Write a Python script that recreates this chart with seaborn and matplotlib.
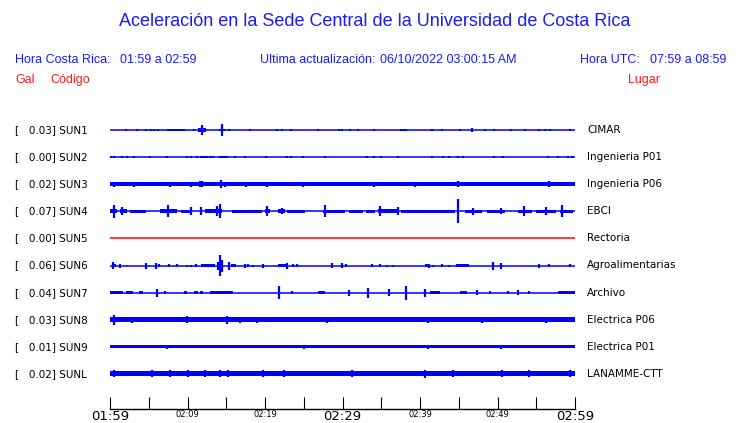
import matplotlib
matplotlib.use("Agg")
import matplotlib.pyplot as plt
import matplotlib.transforms as mtransforms
import numpy as np
import pandas as pd
import seaborn as sns

# Station data
codes = ['SUN1', 'SUN2', 'SUN3', 'SUN4', 'SUN5', 'SUN6', 'SUN7', 'SUN8', 'SUN9', 'SUNL']
places = ['CIMAR', 'Ingenieria P01', 'Ingenieria P06', 'EBCI', 'Rectoria',
          'Agroalimentarias', 'Archivo', 'Electrica P06', 'Electrica P01', 'LANAMME-CTT']
gal = [0.03, 0.00, 0.02, 0.07, 0.00, 0.06, 0.04, 0.03, 0.01, 0.02]
trace_colors = ['#0000ff'] * 4 + ['#ff0000'] + ['#0000ff'] * 5

# background noise half-width of each trace (pixel-ish amplitude units)
noise = [0, 0, 1.7, 0, 0, 0, 0, 2.4, 1.6, 2.4]

# longer stretches of activity: (start minute, end minute, half-width)
bands = {
    'SUN1': [(7.4, 9.7, 1.2), (11.3, 12.4, 1.7), (14.0, 14.9, 1.3), (37.6, 38.3, 1.3), (41.3, 41.8, 1.3)],
    'SUN2': [(11.6, 12.6, 1.2), (14.0, 15.2, 1.2)],
    'SUN4': [(0.0, 0.9, 2.0), (1.3, 2.2, 2.0), (2.6, 4.7, 1.7), (6.5, 8.6, 2.0), (9.2, 10.3, 1.7),
             (12.3, 14.4, 2.0), (15.7, 19.6, 1.7), (20.0, 20.6, 2.0), (21.7, 22.6, 2.0),
             (22.8, 25.2, 1.7), (27.5, 30.3, 1.7), (30.8, 32.6, 1.7), (33.0, 34.2, 1.7),
             (34.6, 37.2, 2.0), (37.6, 44.5, 1.7), (45.8, 48.0, 1.7), (48.6, 51.0, 1.5),
             (52.7, 54.5, 1.7), (55.0, 57.5, 1.7), (58.0, 59.8, 1.7)],
    'SUN6': [(0.2, 0.8, 1.5), (11.8, 13.5, 1.5), (15.6, 16.2, 1.3), (21.7, 22.9, 1.5),
             (40.6, 41.2, 1.7), (44.6, 46.3, 1.5)],
    'SUN7': [(0.0, 1.7, 1.5), (2.0, 3.0, 1.3), (3.7, 4.3, 1.3), (9.5, 9.9, 1.3), (10.9, 11.4, 1.3),
             (11.6, 12.0, 1.3), (12.9, 15.9, 1.5), (26.9, 27.7, 1.3), (41.3, 42.6, 1.5),
             (45.2, 46.0, 1.3), (57.8, 60.0, 1.5)],
}

# short bursts: (minute, half-height)
bursts = {
    'SUN1': [(2.0, 1.3), (3.5, 1.0), (4.6, 1.0), (5.3, 1.3), (5.7, 1.3), (6.2, 1.3), (7.5, 1.3),
             (8.0, 1.3), (8.6, 1.3), (9.0, 1.3), (9.5, 1.0), (10.8, 1.0), (11.6, 1.7), (11.9, 5.3),
             (12.2, 1.7), (14.2, 1.3), (14.5, 6.0), (15.4, 1.0), (18.1, 1.0), (21.5, 1.0),
             (22.2, 1.0), (23.4, 1.0), (26.8, 1.0), (29.5, 1.0), (29.9, 1.0), (31.0, 1.0),
             (32.0, 1.0), (34.1, 0.8), (37.5, 1.0), (38.1, 1.3), (41.5, 1.3), (42.9, 1.3),
             (45.2, 1.3), (46.7, 1.7), (48.4, 1.0), (49.6, 1.0), (51.8, 1.3), (53.5, 1.0),
             (55.3, 1.0), (56.1, 1.0), (56.8, 1.3), (59.4, 1.0)],
    'SUN2': [(0.1, 1.2), (0.5, 1.2), (1.6, 1.0), (2.2, 1.0), (3.1, 1.2), (5.1, 1.0), (7.4, 1.0),
             (9.9, 1.3), (10.5, 1.0), (11.2, 1.0), (11.8, 1.3), (12.2, 1.3), (12.9, 1.0),
             (13.3, 1.0), (14.2, 1.3), (14.6, 1.3), (15.1, 1.0), (16.1, 1.0), (17.4, 1.3),
             (20.1, 1.0), (22.8, 1.0), (23.4, 1.3), (24.9, 1.3), (27.7, 1.0), (33.2, 1.0),
             (34.1, 1.0), (35.0, 1.3), (37.1, 1.0), (41.6, 1.0), (43.0, 1.0), (43.7, 1.0),
             (44.9, 1.0), (45.6, 1.0), (49.5, 1.0), (50.7, 1.0), (56.5, 1.3), (57.8, 1.0),
             (59.1, 1.3), (59.6, 1.3)],
    'SUN3': [(0.5, 2.6), (3.1, 2.4), (7.7, 2.4), (10.5, 2.4), (11.6, 3.0), (11.9, 3.0), (14.3, 4.0),
             (14.8, 2.6), (17.5, 2.4), (18.2, 2.2), (20.3, 2.4), (22.9, 2.2), (23.5, 2.2),
             (24.9, 2.4), (28.9, 2.2), (34.1, 2.4), (36.6, 2.2), (39.4, 2.4), (44.9, 3.0),
             (51.5, 2.2), (55.6, 2.2), (56.6, 3.0), (57.4, 2.2)],
    'SUN4': [(0.5, 6.5), (1.5, 4.0), (7.5, 6.0), (10.5, 4.0), (11.7, 4.0), (13.8, 5.0), (14.2, 7.0),
             (20.3, 5.0), (22.2, 3.0), (27.7, 6.0), (34.8, 5.0), (37.1, 4.0), (44.9, 12.0),
             (46.8, 3.5), (50.5, 3.0), (53.4, 5.0), (56.3, 4.0), (58.3, 6.0)],
    'SUN5': [],
    'SUN6': [(0.4, 3.8), (1.3, 2.0), (2.2, 0.8), (4.6, 3.0), (5.9, 3.0), (6.3, 1.5), (7.6, 1.5),
             (8.6, 1.5), (9.9, 1.0), (10.5, 1.0), (11.1, 1.5), (13.9, 4.0), (14.2, 10.7),
             (14.5, 6.0), (15.3, 4.0), (17.4, 2.0), (17.8, 1.5), (18.5, 1.0), (19.8, 2.0),
             (22.8, 3.0), (23.6, 1.5), (24.1, 1.5), (28.6, 2.5), (29.9, 2.5), (30.4, 1.5),
             (33.8, 1.5), (34.8, 1.5), (35.7, 1.0), (36.5, 1.0), (41.1, 2.0), (41.7, 1.0),
             (42.8, 1.5), (43.7, 1.0), (49.4, 4.0), (50.5, 3.0), (55.3, 2.0), (56.6, 1.5),
             (59.4, 1.5)],
    'SUN7': [(6.0, 4.0), (7.1, 1.5), (9.7, 1.5), (21.8, 6.5), (23.5, 1.5), (30.8, 3.0),
             (33.3, 5.0), (36.0, 3.5), (38.2, 7.0), (40.6, 4.0), (45.6, 1.5), (47.3, 2.5),
             (49.0, 1.3), (51.4, 1.3), (52.7, 2.5), (54.0, 1.3)],
    'SUN8': [(0.5, 5.0), (2.8, 3.0), (9.9, 3.5), (15.1, 4.0), (16.8, 3.0), (19.0, 3.2),
             (28.0, 3.0), (41.0, 3.0), (48.0, 3.0), (56.3, 3.2)],
    'SUN9': [(7.4, 2.0), (25.0, 2.0), (41.0, 2.0), (50.5, 2.0)],
    'SUNL': [(0.5, 3.5), (5.4, 3.5), (7.7, 3.5), (10.1, 3.5), (12.2, 3.5), (14.2, 3.5),
             (15.2, 3.5), (19.8, 3.5), (22.4, 3.5), (31.2, 3.5), (40.6, 4.0), (44.3, 3.5),
             (50.6, 3.5), (54.0, 3.5), (59.4, 3.5)],
}

tick_minutes = list(range(0, 61, 5))
tick_labels = ['01:59', '', '02:09', '', '02:19', '', '02:29', '', '02:39', '', '02:49', '', '02:59']
big_labels = ['01:59', '02:29', '02:59']

ROW_PX = 27.1  # pixels between traces, amplitudes above are in pixels

sns.set_theme(style="white")
plt.rcParams['font.family'] = ['DejaVu Sans']

fig = plt.figure(figsize=(7.4, 4.23), dpi=100)
W, H = 740, 423
ax = fig.add_axes([110 / W, (H - 409) / H, 465 / W, (409 - 112) / H])

# baselines through seaborn
base = pd.DataFrame({
    'code': np.repeat(codes, 2),
    'minute': [0, 60] * len(codes),
    'row': np.repeat(np.arange(len(codes)), 2),
})
sns.lineplot(data=base, x='minute', y='row', hue='code', palette=dict(zip(codes, trace_colors)),
             estimator=None, units='code', sort=False, legend=False, lw=1.1, ax=ax)

for i, code in enumerate(codes):
    c = trace_colors[i]
    if noise[i] > 0:
        ax.fill_between([0, 60], i - noise[i] / ROW_PX, i + noise[i] / ROW_PX, color=c, lw=0)
    for a, b, h in bands.get(code, []):
        ax.fill_between([a, b], i - h / ROW_PX, i + h / ROW_PX, color=c, lw=0)
    if bursts[code]:
        m = np.array([p[0] for p in bursts[code]])
        h = np.array([p[1] for p in bursts[code]]) / ROW_PX
        ax.vlines(m, i - h, i + h, color=c, lw=1.6)

ax.set_xlim(0, 60)
ax.set_ylim((409 - 130) / ROW_PX, -(130 - 112) / ROW_PX)
for s in ['left', 'right', 'top']:
    ax.spines[s].set_visible(False)
ax.spines['bottom'].set_color('black')
ax.spines['bottom'].set_linewidth(1.0)
ax.set_yticks([])
ax.set_xticks(tick_minutes)
ax.set_xticklabels(tick_labels)
ax.tick_params(axis='x', direction='in', length=8.6, width=0.8, color='black', pad=0.5,
               bottom=True, labelcolor='black')
for lab in ax.get_xticklabels():
    lab.set_fontsize(9.5 if lab.get_text() in big_labels else 6)
    lab.set_verticalalignment('top')
ax.set_xlabel('')
ax.set_ylabel('')
ax.patch.set_alpha(0)

# left / right labels for each trace
tr = mtransforms.blended_transform_factory(fig.transFigure, ax.transData)
for i, code in enumerate(codes):
    fig.text(15 / W, i, f"[   {gal[i]:.2f}] {code}", transform=tr, va='center', ha='left',
             fontsize=7.5, color='black')
    fig.text(587 / W, i, places[i], transform=tr, va='center', ha='left',
             fontsize=7.5, color='black')

# header
blue = '#1a1aff'
red = '#ff1a1a'
hf = ['Liberation Sans', 'DejaVu Sans']


def px(x, y, s, color, size=9, ha='left'):
    fig.text(x / W, 1 - y / H, s, color=color, fontsize=size, ha=ha, va='center', family=hf)


px(375, 21, 'Aceleración en la Sede Central de la Universidad de Costa Rica', blue, size=13, ha='center')
px(15, 60, 'Hora Costa Rica:', blue)
px(120, 60, '01:59 a 02:59', blue)
px(260, 60, 'Ultima actualización:', blue)
px(380, 60, '06/10/2022 03:00:15 AM', blue)
px(580, 60, 'Hora UTC:', blue)
px(650, 60, '07:59 a 08:59', blue)
px(15, 80, 'Gal', red)
px(50, 80, 'Código', red)
px(628, 80, 'Lugar', red)

fig.savefig('out.png', dpi=100)
